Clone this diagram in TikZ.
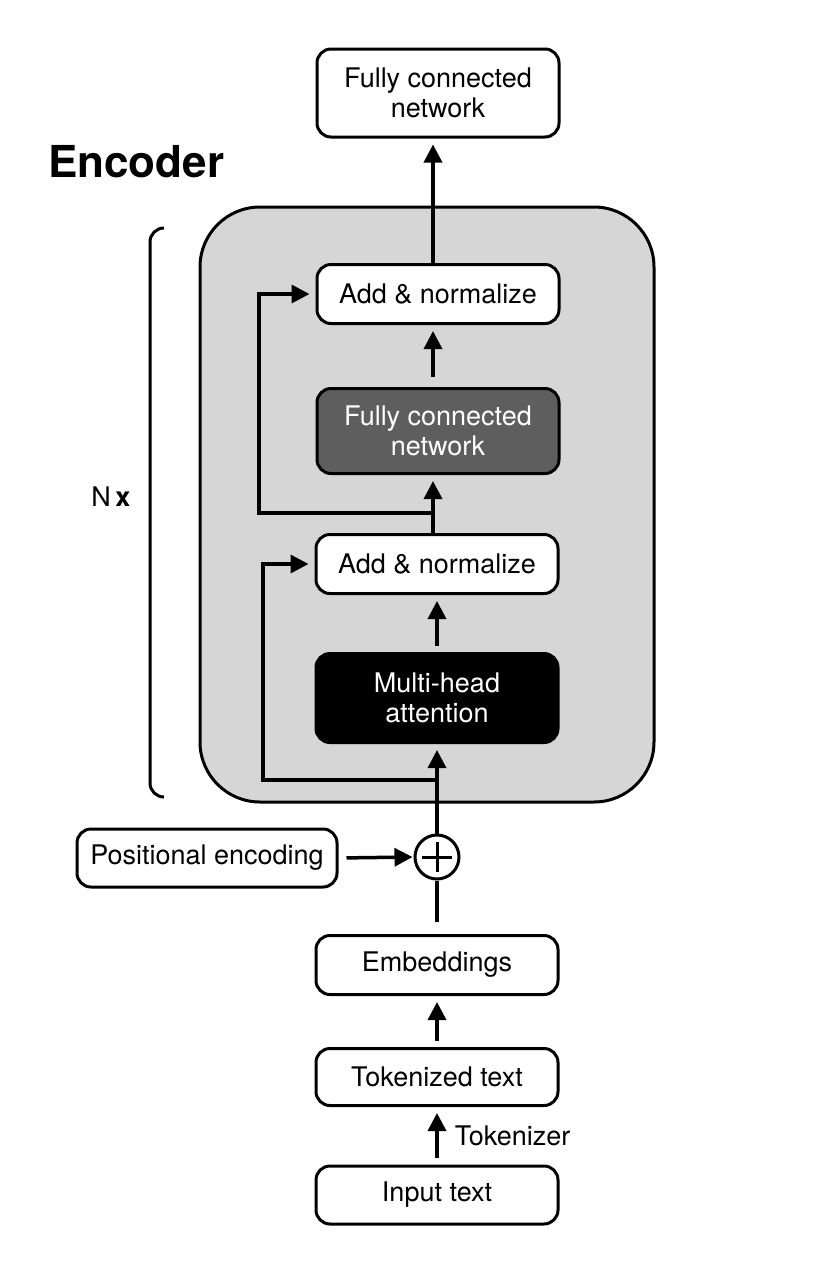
\documentclass[tikz,border=0pt]{standalone}
\usepackage{fontspec}
\setmainfont{TeX Gyre Heros}
\usetikzlibrary{arrows.meta,positioning,calc}
\definecolor{encgray}{HTML}{D6D6D6}
\definecolor{fcgray}{HTML}{5E5E5E}

\begin{document}
\begin{tikzpicture}[x=1pt,y=-1pt,
        box/.style={draw,line width=3pt,rounded corners=14pt,fill=white,minimum width=242pt,minimum height=59pt,align=center,inner sep=0pt,font=\fontsize{27}{30}\selectfont},
        tallbox/.style={box,minimum height=88pt},
        arr/.style={line width=3.5pt,-{Triangle[width=18pt,length=18pt]},shorten >=6pt},
        link/.style={line width=3.5pt}]
        \useasboundingbox (0, 0) rectangle (832, 1262);

        % Encoder block
        \draw[line width=3pt,fill=encgray,rounded corners=60pt] (200, 207) rectangle (654, 802);
        \node[anchor=west,inner sep=0pt,font=\bfseries\fontsize{44}{50}\selectfont] (title) at (48, 162) {Encoder};
        \draw[line width=3pt,rounded corners=14pt] (164, 228) -- (150, 228) -- (150, 797) -- (164, 797);
        \node[inner sep=0pt,font=\fontsize{27}{30}\selectfont] (reps) at (111, 497) {N\,\textbf{x}};

        % Nodes
        \node[tallbox] (fcout) at (438, 93) {Fully connected\\network};
        \node[box] (addtop) at (438, 294) {Add \& normalize};
        \node[tallbox,minimum height=85pt,fill=fcgray,text=white] (fcin) at (438, 431) {Fully connected\\network};
        \node[box] (addlow) at (437, 564) {Add \& normalize};
        \node[tallbox,minimum height=89pt,fill=black,text=white] (mha) at (437, 698) {Multi-head\\attention};
        \node[circle,draw,line width=3pt,minimum size=44pt,inner sep=0pt] (plus) at (437, 857) {};
        \node[box,minimum width=260pt,minimum height=58pt] (posenc) at (207, 858) {Positional encoding};
        \node[box] (emb) at (437, 965) {Embeddings};
        \node[box,minimum height=57pt] (tok) at (437, 1077) {Tokenized text};
        \node[box,minimum height=58pt] (input) at (437, 1195) {Input text};

        % Plus sign
        \draw[line width=3pt] ($(plus.center)+(0,-15)$) -- ($(plus.center)+(0,15)$);
        \draw[line width=3pt] ($(plus.center)+(-15,0)$) -- ($(plus.center)+(15,0)$);

        % Main column
        \coordinate (col) at (433, 0);
        \coordinate (res1) at (437, 780);
        \coordinate (skip1) at (263, 0);
        \coordinate (res2) at (433, 513);
        \coordinate (skip2) at (259, 0);
        \draw[arr,shorten <=7pt] (input.north) -- (tok.south) node[midway,right=16pt,inner sep=0pt,font=\fontsize{27}{30}\selectfont] {Tokenizer};
        \draw[arr,shorten <=6pt] (tok.north) -- (emb.south);
        \draw[link,shorten <=12pt] (emb.north) -- (plus.south);
        \draw[arr,shorten <=8pt,shorten >=1pt] (posenc.east) -- (plus.west);
        \draw[arr] (plus.north) -- (mha.south);
        \draw[arr,shorten <=6pt] (mha.north) -- (addlow.south);
        \draw[arr] (addlow.north -| col) -- (fcin.south -| col);
        \draw[arr,shorten <=10pt] (fcin.north -| col) -- (addtop.south -| col);
        \draw[arr] (addtop.north -| col) -- (fcout.south -| col);

        % Residuals
        \draw[arr] (res1) -- (res1 -| skip1) |- (addlow.west);
        \draw[arr] (res2) -- (res2 -| skip2) |- (addtop.west);
    \end{tikzpicture}
\end{document}
